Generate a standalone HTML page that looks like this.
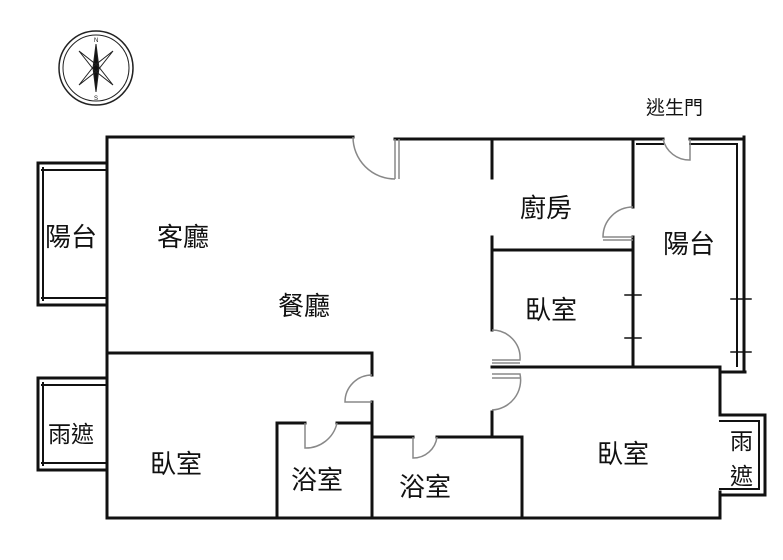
<!DOCTYPE html>
<html><head><meta charset="utf-8"><style>
body{margin:0;background:#fff}
svg{display:block}
text{font-family:"Liberation Sans","Noto Sans CJK TC",sans-serif;fill:#111}
</style></head><body>
<svg width="783" height="560" viewBox="0 0 783 560" xmlns="http://www.w3.org/2000/svg">
<g stroke="#111" stroke-width="3" fill="none" stroke-linecap="square">
<path d="M107 137 H353"/>
<path d="M395 139 H633"/>
<path d="M107 137 V518"/>
<path d="M110 518 H720"/>
<path d="M492 139 V178"/>
<path d="M492 237 V330"/>
<path d="M492 250 H633"/>
<path d="M633 139 V207"/>
<path d="M633 237 V367"/>
<path d="M492 367 H720"/>
<path d="M492 412 V437"/>
<path d="M720 367 V415 M720 492 V518"/>
<path d="M633 139 H663 M690 139 H742" />
<path d="M637 144 H663 M690 144 H736" stroke-width="2"/>
<path d="M744 137 V372" />
<path d="M737 144 V366" stroke-width="2"/>
<path d="M720 372 H745"/>
<path d="M107 353 H372 V375"/>
<path d="M372 402 V518"/>
<path d="M277 423 V518"/>
<path d="M277 423 H305 M337 423 H372"/>
<path d="M372 437 H413 M437 437 H522 V518"/>
<path d="M38 163 H107 M38 305 H107" />
<path d="M42 170 H107 M42 298 H107" stroke-width="2"/>
<path d="M38 163 V305"/><path d="M43 168 V300" stroke-width="2"/>
<path d="M38 378 H107 M38 470 H107"/>
<path d="M42 385 H107 M42 463 H107" stroke-width="2"/>
<path d="M38 378 V470"/><path d="M43 383 V465" stroke-width="2"/>
<path d="M720 415 H765 M720 495 H765"/>
<path d="M720 421 H759 M720 489 H759" stroke-width="2"/>
<path d="M765 415 V495"/><path d="M759 421 V489" stroke-width="2"/>
<path d="M625 295 H641 M625 338 H641 M731 299 H751 M731 352 H751" stroke-width="1.5"/>
</g>
<g stroke="#888" stroke-width="1.5" fill="none">
<path d="M353 137 A42 42 0 0 0 395 179"/><path d="M395 139 V179 M399 139 V179"/>
<path d="M633 207 A30 30 0 0 0 603 237 H633"/><path d="M603 240 H633"/>
<path d="M663 139 A27 27 0 0 0 690 160 V139"/>
<path d="M492 330 A28 28 0 0 1 520 360 H492"/><path d="M492 363 H520"/>
<path d="M492 374 H520 A30 30 0 0 1 492 410"/><path d="M492 378 H520"/>
<path d="M372 375 A27 27 0 0 0 345 402 H372"/>
<path d="M305 423 V448 A32 32 0 0 0 337 423"/>
<path d="M413 437 V458 A24 24 0 0 0 437 437"/>
</g>
<g transform="translate(96,68)" fill="none" stroke="#222">
<circle r="37" stroke-width="1.5"/><circle r="33" stroke-width="1"/>
<path d="M0 -24 L3 0 L0 24 L-3 0 Z" fill="#111"/>
<path d="M-17 -17 L2 -2 L17 17 L-2 2 Z M17 -17 L2 2 L-17 17 L-2 -2 Z" stroke-width="1"/>
<text x="-2" y="-26" font-size="6" stroke="none">N</text>
<text x="-2" y="32" font-size="6" stroke="none">S</text>
</g>
<g font-size="26">
<text x="45" y="246">陽台</text>
<text x="157" y="246">客廳</text>
<text x="278" y="315">餐廳</text>
<text x="520" y="217">廚房</text>
<text x="525" y="319">臥室</text>
<text x="663" y="253">陽台</text>
<text x="150" y="473">臥室</text>
<text x="291" y="489">浴室</text>
<text x="399" y="496">浴室</text>
<text x="597" y="463">臥室</text>
<text x="48" y="442" font-size="23">雨遮</text>
<text x="730" y="449" font-size="23">雨</text>
<text x="730" y="484" font-size="23">遮</text>
</g>
<text x="646" y="114" font-size="19">逃生門</text>
</svg>
</body></html>
